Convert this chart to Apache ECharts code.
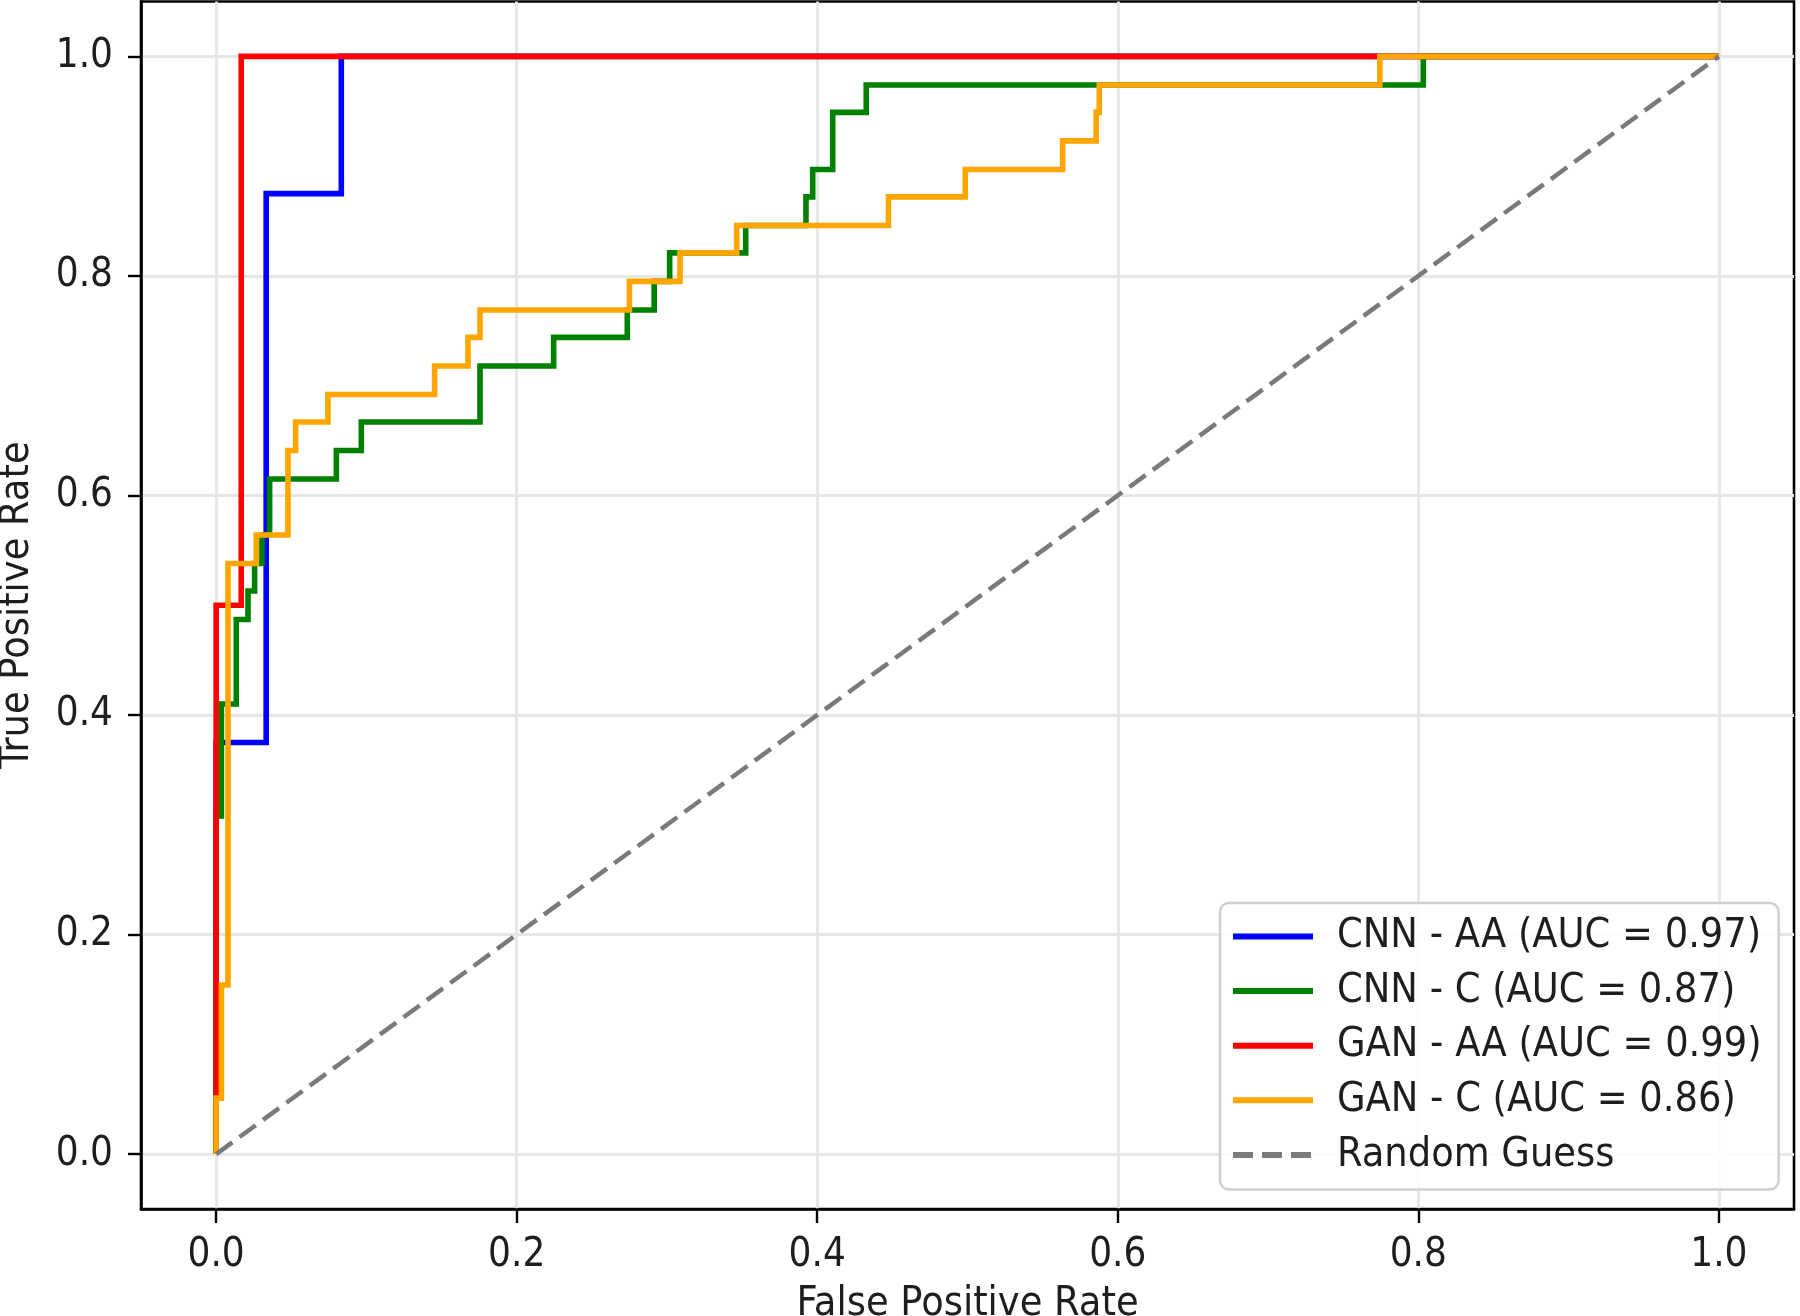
<!DOCTYPE html>
<html>
<head>
<meta charset="utf-8">
<script src="https://cdn.jsdelivr.net/npm/echarts@6/dist/echarts.min.js"></script>
<style>
html,body{margin:0;padding:0;background:#ffffff;}
#chart{width:1800px;height:1316px;}
</style>
</head>
<body>
<div id="chart"></div>
<script>
// ---- data ----
const seriesNames = ['CNN - AA (AUC = 0.97)', 'CNN - C (AUC = 0.87)', 'GAN - AA (AUC = 0.99)', 'GAN - C (AUC = 0.86)', 'Random Guess'];
const seriesColors = ['#0000ff', '#008000', '#ff0000', '#ffa500', '#7a7a7a'];

const cnnAaFpr = [0, 0, 0.0333, 0.0333, 0.0833, 0.0833, 1];
const cnnAaTpr = [0, 0.375, 0.375, 0.875, 0.875, 1, 1];

const cnnCFpr = [0, 0, 0.0035, 0.0035, 0.0134, 0.0134, 0.0212, 0.0212, 0.0256, 0.0256, 0.0305, 0.0305, 0.0356, 0.0356, 0.0800, 0.0800, 0.0966, 0.0966, 0.1756, 0.1756, 0.2246, 0.2246, 0.2736, 0.2736, 0.2915, 0.2915, 0.3018, 0.3018, 0.3524, 0.3524, 0.3925, 0.3925, 0.3970, 0.3970, 0.4103, 0.4103, 0.4326, 0.4326, 0.8033, 0.8033, 1];
const cnnCTpr = [0, 0.308, 0.308, 0.410, 0.410, 0.487, 0.487, 0.513, 0.513, 0.538, 0.538, 0.564, 0.564, 0.615, 0.615, 0.641, 0.641, 0.667, 0.667, 0.718, 0.718, 0.744, 0.744, 0.769, 0.769, 0.795, 0.795, 0.821, 0.821, 0.846, 0.846, 0.872, 0.872, 0.897, 0.897, 0.949, 0.949, 0.974, 0.974, 1, 1];

const ganAaFpr = [0, 0, 0.0167, 0.0167, 1];
const ganAaTpr = [0, 0.5, 0.5, 1, 1];

const ganCFpr = [0, 0, 0.0035, 0.0035, 0.0079, 0.0079, 0.0267, 0.0267, 0.0478, 0.0478, 0.0529, 0.0529, 0.0744, 0.0744, 0.1454, 0.1454, 0.1676, 0.1676, 0.1756, 0.1756, 0.2750, 0.2750, 0.3087, 0.3087, 0.3464, 0.3464, 0.4474, 0.4474, 0.4985, 0.4985, 0.5633, 0.5633, 0.5856, 0.5856, 0.5877, 0.5877, 0.7744, 0.7744, 1];
const ganCTpr = [0, 0.051, 0.051, 0.154, 0.154, 0.538, 0.538, 0.564, 0.564, 0.641, 0.641, 0.667, 0.667, 0.692, 0.692, 0.718, 0.718, 0.744, 0.744, 0.769, 0.769, 0.795, 0.795, 0.821, 0.821, 0.846, 0.846, 0.872, 0.872, 0.897, 0.897, 0.923, 0.923, 0.949, 0.949, 0.974, 0.974, 1, 1];

const randomFpr = [0, 1];
const randomTpr = [0, 1];

const tickValues = [0, 0.2, 0.4, 0.6, 0.8, 1.0];
const xAxisTitle = 'False Positive Rate';
const yAxisTitle = 'True Positive Rate';

// ---- build chart ----
const FONT = "'DejaVu Sans Condensed', 'Liberation Sans', 'DejaVu Sans', sans-serif";
const zip = (xs, ys) => xs.map((x, i) => [x, ys[i]]);
const curves = [
  zip(cnnAaFpr, cnnAaTpr),
  zip(cnnCFpr, cnnCTpr),
  zip(ganAaFpr, ganAaTpr),
  zip(ganCFpr, ganCTpr),
  zip(randomFpr, randomTpr)
];

const gridColor = '#e6e6e6';
function axisCommon(isX) {
  return {
    type: 'value',
    min: -0.05,
    max: 1.05,
    axisLine: { show: true, onZero: false, lineStyle: { color: '#000', width: 2.6 } },
    axisTick: { show: true, inside: false, length: isX ? 14 : 13, customValues: tickValues,
                lineStyle: { color: '#000', width: 2.4 } },
    axisLabel: { show: true, customValues: tickValues, margin: isX ? 27 : 28,
                 fontSize: 40, fontFamily: FONT, color: '#1e1e1e',
                 formatter: v => v.toFixed(1) },
    splitLine: { show: true, lineStyle: { color: gridColor, width: 2.8 } },
    nameLocation: 'middle',
    nameTextStyle: { fontSize: 41, fontFamily: FONT, color: '#1e1e1e' }
  };
}

const chart = echarts.init(document.getElementById('chart'), null, { renderer: 'canvas', width: 1800, height: 1316 });
const option = {
  animation: false,
  backgroundColor: '#ffffff',
  grid: {
    left: 141, right: 6, top: 1.5, bottom: 107,
    containLabel: false,
    outerBoundsMode: 'none',
    show: true, borderColor: '#000', borderWidth: 2.6, backgroundColor: 'transparent'
  },
  xAxis: Object.assign(axisCommon(true), { name: xAxisTitle, nameGap: 75 }),
  yAxis: Object.assign(axisCommon(false), { name: yAxisTitle, nameGap: 103 }),
  legend: {
    orient: 'vertical',
    left: 1220,
    top: 903,
    padding: [13, 17, 14, 10],
    itemWidth: 80,
    itemHeight: 30,
    itemGap: 13.6,
    selectedMode: false,
    backgroundColor: 'rgba(255,255,255,0.85)',
    borderColor: '#cfcfcf',
    borderWidth: 2.5,
    borderRadius: 9,
    itemStyle: { opacity: 0, borderWidth: 0 },
    lineStyle: { width: 6 },
    textStyle: { fontSize: 41, fontFamily: FONT, color: '#1e1e1e', lineHeight: 30, padding: [10, 0, 0, 19] },
    data: seriesNames
  },
  series: curves.map((pts, i) => ({
    name: seriesNames[i],
    type: 'line',
    data: pts,
    symbol: 'none',
    showSymbol: false,
    smooth: false,
    clip: true,
    z: 2 + i,
    silent: true,
    color: seriesColors[i],
    itemStyle: { color: seriesColors[i] },
    lineStyle: { color: seriesColors[i], width: i === 4 ? 4.5 : 5.6, type: i === 4 ? [20, 9] : 'solid', cap: 'butt', join: 'miter' },
    emphasis: { disabled: true }
  }))
};
chart.setOption(option);
</script>
</body>
</html>
